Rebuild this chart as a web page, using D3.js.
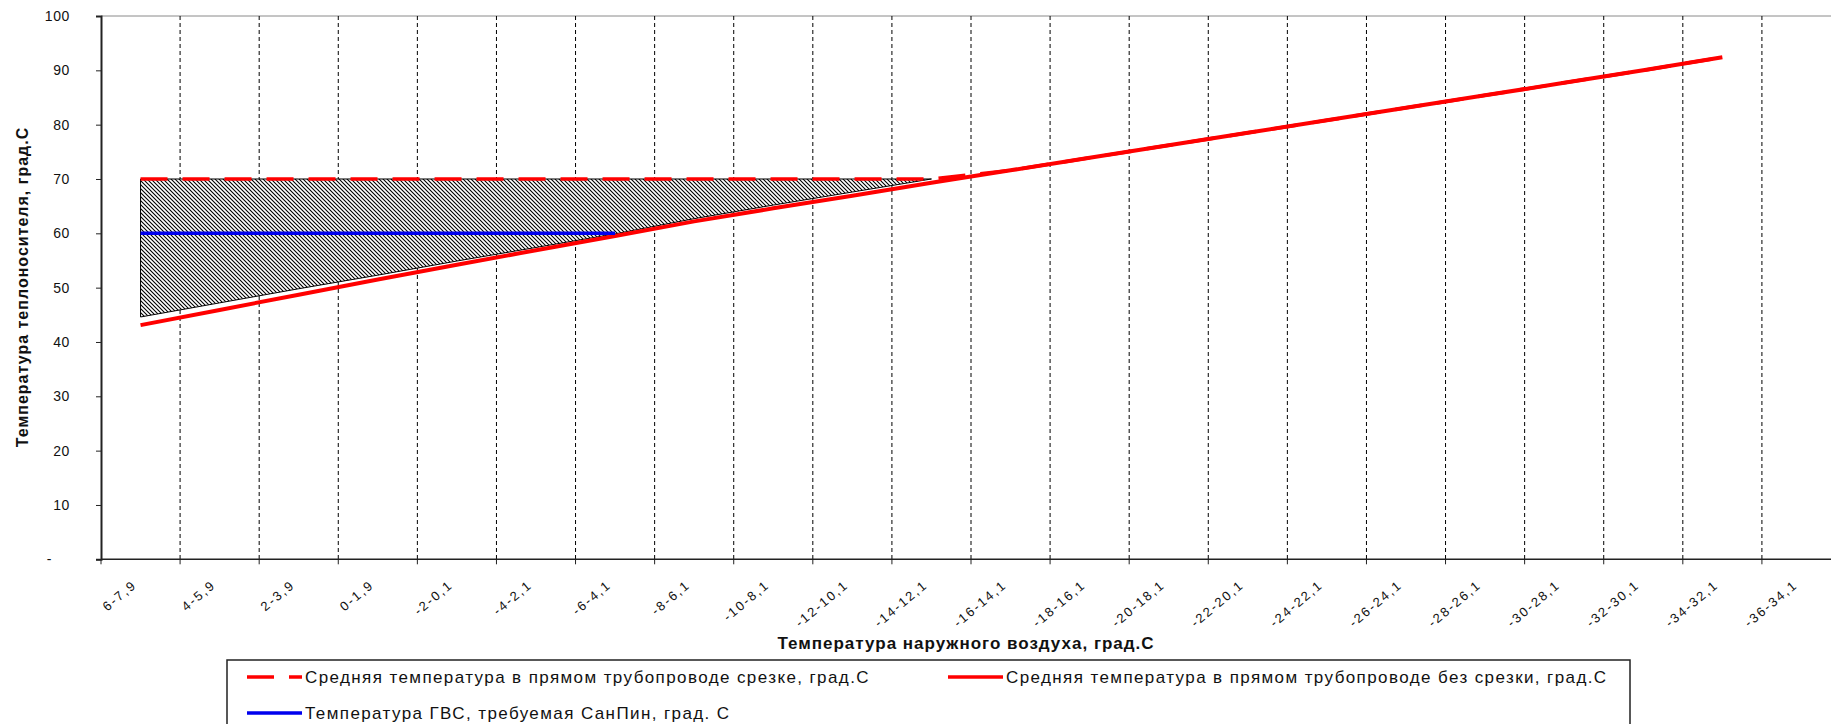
<!DOCTYPE html>
<html>
<head>
<meta charset="utf-8">
<script src="https://cdn.jsdelivr.net/npm/d3@7"></script>
<style>
  body { margin: 0; background: #fff; }
  text { font-family: "Liberation Sans", Arial, sans-serif; fill: #111; }
</style>
</head>
<body>
<svg id="chart" width="1831" height="724"></svg>
<script>
// categories of outdoor temperature
var categories = ["6-7,9","4-5,9","2-3,9","0-1,9","-2-0,1","-4-2,1","-6-4,1","-8-6,1","-10-8,1",
  "-12-10,1","-14-12,1","-16-14,1","-18-16,1","-20-18,1","-22-20,1","-24-22,1","-26-24,1",
  "-28-26,1","-30-28,1","-32-30,1","-34-32,1","-36-34,1"];

// supply temperature without cut-off
var supplyNoCut = [43.1,45.9,48.7,51.5,54.2,56.9,59.5,62.2,64.6,66.9,69.3,71.6,73.9,76.2,78.5,80.8,83.1,85.4,87.7,90.0,92.4,null];
// supply temperature with cut-off
var supplyCut = [70,70,70,70,70,70,70,70,70,70,70,71.6,73.9,76.2,78.5,80.8,83.1,85.4,87.7,90.0,92.4,null];
// hot water temperature required by SanPiN
var dhw = [60,60,60,60,60,60,60,null,null,null,null,null,null,null,null,null,null,null,null,null,null,null];
// hatched band (top / bottom)
var hatchTop = [70,70,70,70,70,70,70,70,70,70,70];
var hatchLow = [44.6,47.2,49.8,52.3,54.9,57.4,59.9,62.7,65.2,67.6,70.0];

var yTicks = [0,10,20,30,40,50,60,70,80,90,100];

var legendNames = [
  "Средняя температура в прямом трубопроводе срезке, град.С",
  "Средняя температура в прямом трубопроводе без срезки, град.С",
  "Температура ГВС, требуемая СанПин, град. С"
];

var margin = {left: 101, top: 16},
    plotRight = 1841, plotBottom = 559.3;

var svg = d3.select("#chart");

var x = d3.scaleBand().domain(categories).range([margin.left, plotRight]).padding(0);
var y = d3.scaleLinear().domain([0, 100]).range([plotBottom, margin.top]);
var cx = function(i){ return x(categories[i]) + x.bandwidth() / 2; };

// hatch pattern
var defs = svg.append("defs");
var pat = defs.append("pattern").attr("id", "hatch")
  .attr("patternUnits", "userSpaceOnUse").attr("width", 4).attr("height", 4);
pat.append("rect").attr("width", 4).attr("height", 4).attr("fill", "#fff");
pat.append("path").attr("d", "M-1,-1 L5,5 M3,-1 L5,1 M-1,3 L1,5")
  .attr("stroke", "#000").attr("stroke-width", 1.1);

// top border
svg.append("line")
  .attr("x1", margin.left).attr("x2", plotRight)
  .attr("y1", y(100)).attr("y2", y(100))
  .attr("stroke", "#8a8a8a").attr("stroke-width", 1);

// vertical dashed gridlines at category boundaries
svg.append("g").selectAll("line")
  .data(categories.slice(1))
  .enter().append("line")
  .attr("x1", function(d){ return x(d); }).attr("x2", function(d){ return x(d); })
  .attr("y1", y(100)).attr("y2", y(0))
  .attr("stroke", "#000").attr("stroke-width", 1)
  .attr("stroke-dasharray", "4,3");

// hatched band
var band = hatchTop.map(function(t, i){ return {i: i, top: t, low: hatchLow[i]}; });
var area = d3.area()
  .x(function(d){ return cx(d.i); })
  .y0(function(d){ return y(d.low); })
  .y1(function(d){ return y(d.top); });
svg.append("path").datum(band)
  .attr("d", area)
  .attr("fill", "url(#hatch)")
  .attr("stroke", "#000").attr("stroke-width", 1);

// y axis
var yAxis = d3.axisLeft(y).tickValues(yTicks).tickSize(5).tickPadding(26)
  .tickFormat(function(d){ return d === 0 ? "-" : d; });
var gy = svg.append("g").attr("transform", "translate(" + margin.left + ",0)").call(yAxis);
gy.select(".domain").attr("stroke", "#222").attr("stroke-width", 2);
gy.selectAll(".tick line").attr("stroke", "#222");
gy.selectAll(".tick text")
  .style("font-family", "'Liberation Sans', Arial, sans-serif")
  .style("font-size", "14px").attr("fill", "#222").attr("letter-spacing", "0.6");
gy.selectAll(".tick text").filter(function(d){ return d === 0; }).attr("dx", -18);

// x axis line and boundary ticks
svg.append("line")
  .attr("x1", margin.left).attr("x2", plotRight)
  .attr("y1", y(0)).attr("y2", y(0))
  .attr("stroke", "#222").attr("stroke-width", 1.5);
svg.append("g").selectAll("line")
  .data(categories)
  .enter().append("line")
  .attr("x1", function(d){ return x(d); }).attr("x2", function(d){ return x(d); })
  .attr("y1", y(0)).attr("y2", y(0) + 5)
  .attr("stroke", "#222").attr("stroke-width", 1);

// category labels
svg.append("g").selectAll("text")
  .data(categories)
  .enter().append("text")
  .attr("transform", function(d, i){ return "translate(" + (cx(i) - 3) + "," + (y(0) + 27) + ") rotate(-40)"; })
  .attr("text-anchor", "end")
  .attr("font-size", "13px")
  .attr("letter-spacing", "2")
  .text(function(d){ return d; });

// lines
var line = d3.line()
  .defined(function(d){ return d != null; })
  .x(function(d, i){ return cx(i); })
  .y(function(d){ return y(d); });

svg.append("path").datum(supplyNoCut)
  .attr("d", line).attr("fill", "none")
  .attr("stroke", "#ff0000").attr("stroke-width", 4);

svg.append("path").datum(supplyCut)
  .attr("d", line).attr("fill", "none")
  .attr("stroke", "#ff0000").attr("stroke-width", 3.5)
  .attr("stroke-dasharray", "27,15");

svg.append("path").datum(dhw)
  .attr("d", line).attr("fill", "none")
  .attr("stroke", "#0000ee").attr("stroke-width", 3.5);

// axis titles
svg.append("text")
  .attr("x", 966).attr("y", 649)
  .attr("text-anchor", "middle")
  .attr("font-weight", "bold").attr("font-size", "17px").attr("letter-spacing", "1")
  .text("Температура наружного воздуха, град.С");

svg.append("text")
  .attr("transform", "translate(28,287) rotate(-90)")
  .attr("text-anchor", "middle")
  .attr("font-weight", "bold").attr("font-size", "16px").attr("letter-spacing", "1")
  .text("Температура теплоносителя, град.С");

// legend
var lg = svg.append("g");
lg.append("rect")
  .attr("x", 227).attr("y", 660).attr("width", 1403).attr("height", 90)
  .attr("fill", "#fff").attr("stroke", "#222").attr("stroke-width", 1.5);

var legendItems = [
  {name: legendNames[0], color: "#ff0000", dash: "27,15", x: 247, y: 677},
  {name: legendNames[1], color: "#ff0000", dash: null, x: 948, y: 677},
  {name: legendNames[2], color: "#0000ee", dash: null, x: 247, y: 713}
];
legendItems.forEach(function(it){
  lg.append("line")
    .attr("x1", it.x).attr("x2", it.x + 55)
    .attr("y1", it.y).attr("y2", it.y)
    .attr("stroke", it.color).attr("stroke-width", 3.5)
    .attr("stroke-dasharray", it.dash);
  lg.append("text")
    .attr("x", it.x + 58).attr("y", it.y)
    .attr("dy", "0.36em")
    .attr("font-size", "17px").attr("letter-spacing", "1.4")
    .text(it.name);
});
</script>
</body>
</html>
